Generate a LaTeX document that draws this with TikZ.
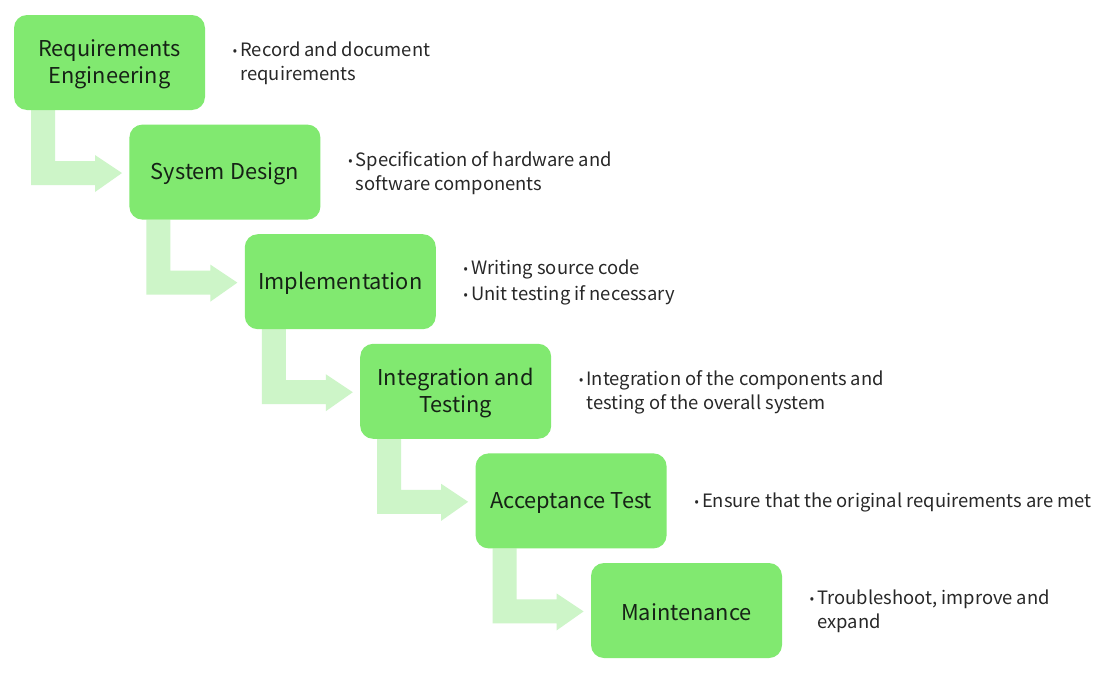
\documentclass[tikz,border=0pt]{standalone}
\usepackage{fontspec}
\setmainfont{Noto Sans CJK SC}
\newfontfamily\bulfont{Noto Sans}
\begin{document}
\begin{tikzpicture}[x=1pt,y=-1pt,
  stagebox/.style={fill=boxgreen, rounded corners=13pt, minimum width=191pt, minimum height=95pt,
    inner sep=0pt},
  stagetext/.style={inner sep=0pt, align=center, text=textdark, font=\fontsize{21.8}{27}\selectfont},
  note/.style={anchor=west, align=left, text=textgray, font=\fontsize{18.4}{24}\selectfont, inner sep=0pt},
  flow/.style={fill=arrowgreen}]
\definecolor{boxgreen}{RGB}{129,233,112}
\definecolor{arrowgreen}{RGB}{205,245,200}
\definecolor{textdark}{RGB}{22,34,22}
\definecolor{textgray}{RGB}{40,40,40}
\useasboundingbox[fill=white] (0,0) rectangle (1120,680);
\newcommand{\bul}{\makebox[8pt][l]{\bulfont\fontsize{14}{14}\selectfont\textbullet}}
\newcommand{\bulsp}{\hspace*{8pt}}

% arrows (behind boxes)
\foreach \i in {0,...,4}{
  \pgfmathsetmacro{\bx}{14+115.4*\i}
  \pgfmathsetmacro{\by}{110+109.6*\i}
  \fill[flow] (\bx+17,\by) -- ++(24,0) -- ++(0,51) -- ++(40,0) -- ++(0,-6) -- ++(27,18)
    -- ++(-27,19) -- ++(0,-7) -- ++(-64,0) -- cycle;
}

\node[stagebox] (b0) at (109.5,62.5) {};
\node[stagebox] (b1) at (224.9,172.1) {};
\node[stagebox] (b2) at (340.3,281.7) {};
\node[stagebox] (b3) at (455.7,391.3) {};
\node[stagebox] (b4) at (571.1,500.9) {};
\node[stagebox] (b5) at (686.5,610.5) {};

\node[stagetext] (t0) at ([yshift=-2pt]b0.center) {Requirements\\Engineering};
\node[stagetext] (t1) at ([yshift=-2pt]b1.center) {System Design};
\node[stagetext] (t2) at ([yshift=-2pt]b2.center) {Implementation};
\node[stagetext] (t3) at ([yshift=-2pt]b3.center) {Integration and\\Testing};
\node[stagetext] (t4) at ([yshift=-2pt]b4.center) {Acceptance Test};
\node[stagetext] (t5) at ([yshift=-2pt]b5.center) {Maintenance};

\node[note] (n0) at ([xshift=27pt,yshift=-1pt]b0.east) {\bul Record and document\\\bulsp requirements};
\node[note] (n1) at ([xshift=27pt,yshift=-1pt]b1.east) {\bul Specification of hardware and\\\bulsp software components};
\node[note, font=\fontsize{18.4}{26}\selectfont] (n2) at ([xshift=27pt,yshift=-1pt]b2.east) {\bul Writing source code\\\bul Unit testing if necessary};
\node[note] (n3) at ([xshift=27pt,yshift=-1pt]b3.east) {\bul Integration of the components and\\\bulsp testing of the overall system};
\node[note] (n4) at ([xshift=27pt,yshift=-2pt]b4.east) {\bul Ensure that the original requirements are met};
\node[note] (n5) at ([xshift=27pt,yshift=-1pt]b5.east) {\bul Troubleshoot, improve and\\\bulsp expand};
\end{tikzpicture}
\end{document}
